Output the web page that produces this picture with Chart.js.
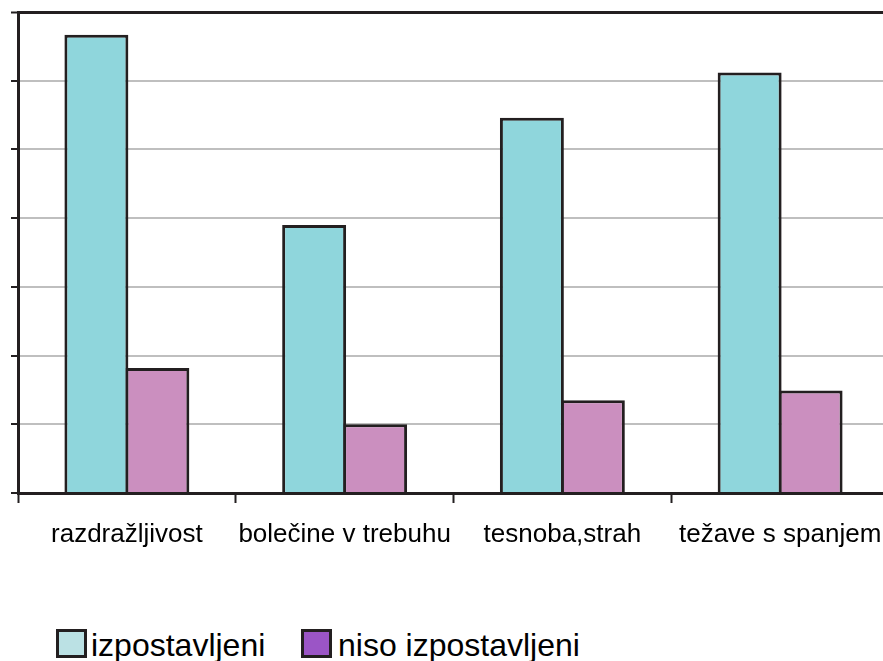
<!DOCTYPE html>
<html>
<head>
<meta charset="utf-8">
<script src="https://cdn.jsdelivr.net/npm/chart.js@4"></script>
<style>
    html, body { margin: 0; padding: 0; background: #fff; overflow: hidden; }
    #wrap { position: relative; width: 883px; height: 661px; overflow: hidden; }
    #chart { position: absolute; left: 0; top: 0; }
    .lg-box { position: absolute; box-sizing: border-box; width: 31px; height: 29px; border: 3px solid #231f20; }
    .lg-text { position: absolute; font-family: "Liberation Sans", Arial, sans-serif; font-size: 32px; line-height: 32px; color: #000; white-space: nowrap; }
</style>
</head>
<body>
<div id="wrap">
    <canvas id="chart" width="890" height="560" style="width:890px;height:560px"></canvas>
    <div class="lg-box" style="left:56px;top:629px;background:#bbe1e4"></div>
    <div class="lg-text" style="left:91px;top:629px">izpostavljeni</div>
    <div class="lg-box" style="left:301px;top:629px;background:#9b55c6"></div>
    <div class="lg-text" style="left:338px;top:629px">niso izpostavljeni</div>
</div>
<script>
// Categories and values
const categories = ['razdražljivost', 'bolečine v trebuhu', 'tesnoba,strah', 'težave s spanjem'];
const exposed = [6.67, 3.9, 5.46, 6.12];
const notExposed = [1.82, 1.0, 1.35, 1.49];
const seriesNames = ['izpostavljeni', 'niso izpostavljeni'];

const edge = '#231f20';

new Chart(document.getElementById('chart'), {
    type: 'bar',
    data: {
        labels: categories,
        datasets: [{
            label: seriesNames[0],
            data: exposed,
            backgroundColor: '#8fd6dc',
            borderColor: edge,
            borderWidth: 3,
            categoryPercentage: 0.56,
            barPercentage: 1.049
        }, {
            label: seriesNames[1],
            data: notExposed,
            backgroundColor: '#cb8fbf',
            borderColor: edge,
            borderWidth: 3,
            categoryPercentage: 0.56,
            barPercentage: 1.049
        }]
    },
    options: {
        responsive: false,
        animation: false,
        layout: { padding: { top: 12, right: 1, left: 0, bottom: 0 } },
        plugins: {
            legend: { display: false },
            tooltip: { enabled: false }
        },
        scales: {
            y: {
                min: 0,
                max: 7,
                ticks: { display: false, stepSize: 1 },
                afterFit: s => { s.width = 18; s.paddingTop = 0; s.paddingBottom = 0; },
                border: { color: edge, width: 3 },
                grid: {
                    color: ctx => ctx.index === 7 ? edge : '#bfbfbf',
                    lineWidth: ctx => ctx.index === 7 ? 3 : 2,
                    tickColor: edge,
                    tickLength: 7,
                    tickWidth: 2
                }
            },
            x: {
                afterFit: s => { s.height = 67; s.paddingLeft = 0; s.paddingRight = 0; },
                border: { color: edge, width: 3 },
                grid: {
                    offset: true,
                    drawOnChartArea: false,
                    tickColor: edge,
                    tickLength: 10,
                    tickWidth: 2
                },
                ticks: {
                    color: '#000',
                    padding: 16,
                    maxRotation: 0,
                    autoSkip: false,
                    font: { family: '"Liberation Sans", Arial, sans-serif', size: 26 }
                }
            }
        }
    }
});
</script>
</body>
</html>
